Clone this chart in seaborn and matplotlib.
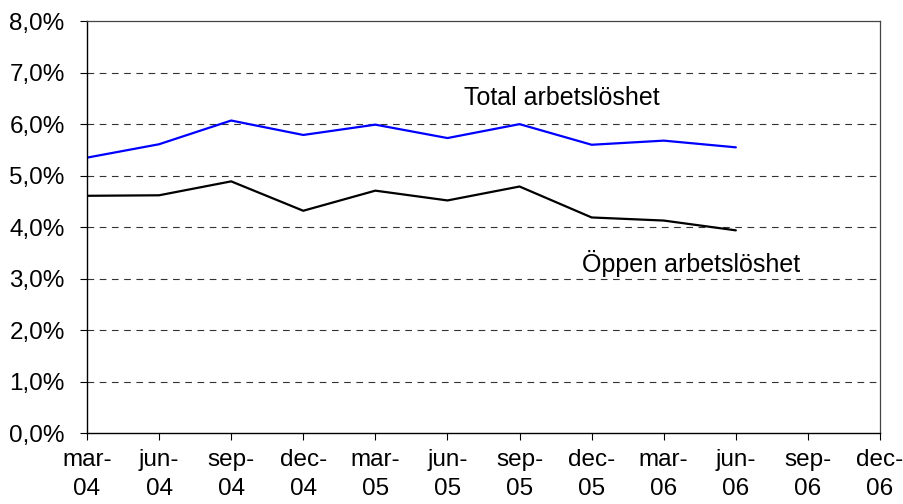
import pandas as pd
import matplotlib.pyplot as plt
import seaborn as sns
from matplotlib.ticker import FuncFormatter

# Quarter labels along the x axis
quarters = ["mar-\n04", "jun-\n04", "sep-\n04", "dec-\n04",
            "mar-\n05", "jun-\n05", "sep-\n05", "dec-\n05",
            "mar-\n06", "jun-\n06", "sep-\n06", "dec-\n06"]

# Unemployment rates (%) (data ends at jun-06)
total_rate = [5.35, 5.61, 6.07, 5.79, 5.99, 5.73, 6.00, 5.60, 5.68, 5.55]
open_rate = [4.61, 4.62, 4.89, 4.32, 4.71, 4.52, 4.79, 4.19, 4.13, 3.94]

y_ticks = [0, 1, 2, 3, 4, 5, 6, 7, 8]

sns.set_style("white")
plt.rcParams["font.family"] = ["Liberation Sans", "DejaVu Sans"]
plt.rcParams["text.color"] = "black"
plt.rcParams["xtick.color"] = "black"
plt.rcParams["ytick.color"] = "black"

df = pd.DataFrame({
    "pos": list(range(len(total_rate))) * 2,
    "rate": total_rate + open_rate,
    "serie": ["Total"] * len(total_rate) + ["Öppen"] * len(open_rate),
})

fig = plt.figure(figsize=(9.04, 5.04), dpi=100)
ax = fig.add_axes([0.0962, 0.1399, 0.8773, 0.8184])

sns.lineplot(data=df, x="pos", y="rate", hue="serie",
             palette={"Total": "#0000ff", "Öppen": "#000000"},
             linewidth=1.6, legend=False, ax=ax)

ax.set_xlim(0, len(quarters) - 1)
ax.set_ylim(0, 8)
ax.set_xticks(range(len(quarters)))
ax.set_xticklabels(quarters, fontsize=17.5, linespacing=1.45)
ax.set_yticks(y_ticks)
ax.yaxis.set_major_formatter(FuncFormatter(lambda v, _: f"{v:.1f}%".replace(".", ",")))
ax.tick_params(axis="y", labelsize=17.5, length=5, width=0.8, pad=11, direction="out", left=True)
ax.tick_params(axis="x", length=5, width=0.8, pad=6, direction="out", bottom=True)
ax.set_xlabel("")
ax.set_ylabel("")

for v in y_ticks[1:-1]:
    ax.axhline(v, color="#333333", linewidth=0.8, linestyle=(0, (6, 5)), zorder=0)

for side in ["top", "right"]:
    ax.spines[side].set_color("#444444")
    ax.spines[side].set_linewidth(0.9)
for side in ["left", "bottom"]:
    ax.spines[side].set_color("black")
    ax.spines[side].set_linewidth(1.0)

ax.text(6.59, 6.5, "Total arbetslöshet", fontsize=18, ha="center", va="center")
ax.text(8.38, 3.30, "Öppen arbetslöshet", fontsize=18, ha="center", va="center")

fig.savefig("out.png", dpi=100)
